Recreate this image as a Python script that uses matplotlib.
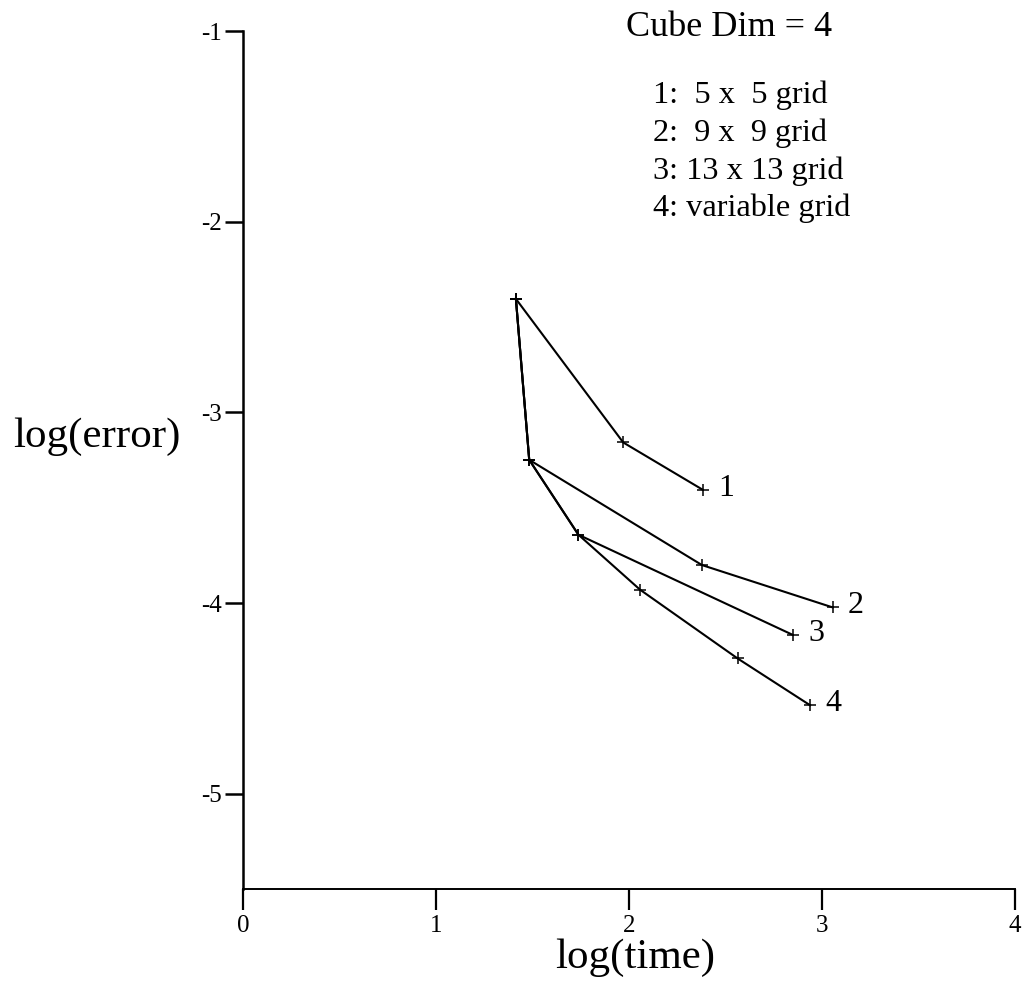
import matplotlib
matplotlib.use("Agg")
import matplotlib.pyplot as plt

plt.rcParams['font.family'] = ['Liberation Serif', 'DejaVu Serif']

# log(time) and log(error) for each run
t1 = [1.414, 1.970, 2.382]
e1 = [-2.405, -3.158, -3.406]

t2 = [1.414, 1.483, 2.378, 3.055]
e2 = [-2.405, -3.249, -3.801, -4.023]

t3 = [1.414, 1.483, 1.738, 2.848]
e3 = [-2.405, -3.249, -3.642, -4.167]

t4 = [1.414, 1.483, 1.738, 2.057, 2.563, 2.938]
e4 = [-2.405, -3.249, -3.642, -3.930, -4.291, -4.536]

series = [(t1, e1, "1"), (t2, e2, "2"), (t3, e3, "3"), (t4, e4, "4")]

legend_lines = ["1:  5 x  5 grid", "2:  9 x  9 grid",
                "3: 13 x 13 grid", "4: variable grid"]

fig = plt.figure(figsize=(10.24, 9.91), dpi=100)
ax = fig.add_axes([243/1024, 1 - 889/991, (1015 - 243)/1024, (889 - 31)/991])

for t, e, name in series:
    ax.plot(t, e, color='black', linewidth=1.5, marker='+',
            markersize=9, markeredgewidth=1.1)
    ax.annotate(name, (t[-1], e[-1]), xytext=(11, 1), textcoords='offset points',
                ha='left', va='center', fontsize=23)

ax.set_xlim(0, 4)
ax.set_ylim(-5.5, -1)
ax.set_xticks([0, 1, 2, 3, 4])
ax.set_yticks([-1, -2, -3, -4, -5])
ax.set_yticklabels(["-1", "-2", "-3", "-4", "-5"])
ax.spines['top'].set_visible(False)
ax.spines['right'].set_visible(False)
ax.spines['left'].set_linewidth(1.8)
ax.spines['bottom'].set_linewidth(1.4)
ax.tick_params(axis='y', direction='out', length=13, width=1.8, labelsize=18, pad=2)
ax.tick_params(axis='x', direction='out', length=15, width=1.6, labelsize=18, pad=4)
ax.patch.set_visible(False)

fig.text(635/1024, 1 - 958/991, "log(time)", ha='center', va='center', fontsize=31)
fig.text(97/1024, 1 - 437/991, "log(error)", ha='center', va='center', fontsize=31)

fig.text(729/1024, 1 - 36/991, "Cube Dim = 4", ha='center', va='baseline', fontsize=26)
for i, line in enumerate(legend_lines):
    fig.text(653/1024, 1 - (103 + 37.8*i)/991, line, ha='left', va='baseline', fontsize=23.3)

fig.savefig("out.png", dpi=100)
